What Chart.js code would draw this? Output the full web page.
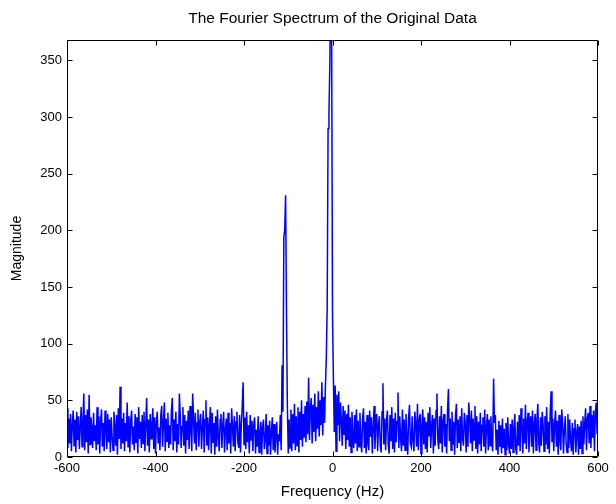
<!DOCTYPE html>
<html>
<head>
<meta charset="utf-8">
<script src="https://cdn.jsdelivr.net/npm/chart.js@4.4.1/dist/chart.umd.min.js"></script>
<style>
  html, body { margin: 0; padding: 0; background: #fff; }
  #wrap { width: 616px; height: 504px; }
</style>
</head>
<body>
<div id="wrap"><canvas id="spectrum" width="616" height="504"></canvas></div>
<script>
// FFT bins: 2 Hz apart, -600 .. 600 Hz
const binStart = -600;
const binStep = 2;

// |X(f)| per bin, 30 bins (60 Hz) per row
const magnitude = [
  43, 8, 34, 12, 38, 5, 29, 41, 10, 33, 4, 40, 15, 36, 7, 27, 44, 9, 31, 56, 6, 37, 13, 42, 3, 55, 11, 35, 26, 8,
  39, 14, 28, 6, 44, 11, 36, 3, 32, 42, 9, 30, 5, 41, 24, 7, 38, 13, 33, 4, 35, 18, 6, 40, 27, 10, 37, 2, 43, 16,
  62, 7, 34, 12, 39, 5, 30, 14, 48, 9, 36, 4, 32, 41, 11, 27, 6, 38, 13, 35, 3, 44, 16, 31, 8, 37, 12, 40, 5, 29,
  52, 10, 33, 4, 38, 16, 29, 43, 7, 35, 3, 31, 40, 12, 26, 6, 37, 45, 9, 30, 48, 5, 34, 14, 39, 8, 28, 11, 41, 52,
  6, 33, 14, 40, 4, 29, 11, 56, 36, 8, 27, 44, 10, 37, 3, 32, 15, 41, 7, 45, 24, 5, 56, 34, 12, 39, 6, 30, 42, 9,
  31, 38, 7, 26, 41, 4, 33, 50, 10, 35, 6, 29, 44, 3, 39, 13, 30, 2, 36, 9, 42, 17, 5, 33, 38, 8, 28, 40, 4, 24,
  34, 6, 39, 12, 30, 3, 43, 27, 9, 36, 5, 31, 40, 14, 8, 37, 4, 29, 45, 66, 11, 35, 7, 40, 13, 28, 3, 37, 15, 32,
  5, 29, 35, 3, 24, 9, 36, 4, 21, 31, 2, 27, 33, 7, 15, 38, 3, 28, 10, 32, 2, 23, 35, 6, 29, 4, 19, 31, 2, 20,
  14, 37, 6, 81, 40, 194, 200, 231, 128, 45, 3, 33, 8, 42, 5, 38, 12, 47, 6, 36, 10, 44, 4, 40, 15, 50, 9, 38, 17, 45,
  13, 49, 20, 70, 15, 43, 52, 12, 46, 22, 56, 14, 44, 25, 58, 18, 50, 28, 66, 19, 53, 30, 62, 88, 132, 290, 303, 347, 420, 380,
  127, 70, 22, 63, 5, 55, 28, 58, 14, 48, 33, 10, 45, 20, 41, 7, 38, 15, 46, 9, 35, 4, 40, 18, 8, 37, 12, 42, 5, 32,
  9, 39, 14, 4, 34, 43, 8, 31, 3, 37, 12, 6, 41, 18, 35, 3, 27, 45, 7, 33, 38, 5, 29, 36, 10, 4, 40, 65, 11, 34,
  6, 32, 41, 11, 3, 37, 14, 44, 7, 34, 4, 39, 13, 31, 57, 8, 36, 16, 5, 42, 10, 33, 6, 38, 17, 2, 35, 46, 12, 9,
  36, 14, 5, 40, 30, 9, 47, 6, 33, 38, 3, 28, 42, 11, 35, 7, 31, 4, 39, 18, 44, 8, 27, 37, 3, 34, 10, 41, 56, 15,
  7, 36, 12, 45, 4, 32, 38, 9, 29, 3, 42, 60, 14, 34, 6, 40, 11, 31, 2, 37, 47, 8, 33, 13, 36, 5, 43, 16, 10, 39,
  30, 4, 37, 9, 48, 33, 12, 41, 5, 34, 15, 45, 7, 36, 3, 31, 11, 39, 5, 28, 35, 9, 42, 3, 27, 38, 6, 33, 10, 36,
  14, 5, 69, 30, 37, 6, 24, 2, 32, 9, 28, 3, 34, 8, 25, 2, 30, 6, 35, 11, 3, 29, 7, 33, 4, 26, 38, 8, 2, 31,
  10, 37, 5, 43, 28, 3, 34, 12, 46, 7, 31, 39, 4, 27, 36, 9, 41, 3, 30, 38, 6, 33, 47, 13, 4, 35, 10, 40, 28, 5,
  36, 11, 44, 7, 31, 3, 39, 58, 13, 34, 5, 29, 41, 9, 32, 2, 37, 14, 6, 42, 30, 3, 24, 36, 12, 4, 38, 8, 33, 15,
  5, 30, 2, 25, 33, 4, 22, 29, 2, 27, 7, 32, 3, 36, 11, 30, 43, 6, 34, 39, 12, 45, 8, 37, 17, 41, 5, 39, 48, 20,
  40
];

const xTicks = [-600, -400, -200, 0, 200, 400, 600];
const yTicks = [0, 50, 100, 150, 200, 250, 300, 350];

const points = magnitude.map((m, i) => ({ x: binStart + i * binStep, y: m }));

const FONT = "'Liberation Sans', Arial, sans-serif";

// matlab-style box with ticks pointing inward on all four sides
const boxTicks = {
  id: 'boxTicks',
  afterDraw(chart) {
    const { ctx, chartArea: a, scales } = chart;
    const L = Math.round(a.left) + 0.5, R = Math.round(a.right) - 0.5;
    const T = Math.round(a.top) + 0.5, B = Math.round(a.bottom) - 0.5;
    const len = 5;
    ctx.save();
    ctx.strokeStyle = '#000';
    ctx.lineWidth = 1;
    ctx.beginPath();
    ctx.rect(L, T, R - L, B - T);
    xTicks.forEach(v => {
      const px = Math.round(scales.x.getPixelForValue(v)) + 0.5;
      ctx.moveTo(px, B); ctx.lineTo(px, B - len);
      ctx.moveTo(px, T); ctx.lineTo(px, T + len);
    });
    yTicks.forEach(v => {
      const py = Math.round(scales.y.getPixelForValue(v)) + 0.5;
      ctx.moveTo(L, py); ctx.lineTo(L + len, py);
      ctx.moveTo(R, py); ctx.lineTo(R - len, py);
    });
    ctx.stroke();
    ctx.restore();
  }
};

new Chart(document.getElementById('spectrum'), {
  type: 'line',
  data: {
    datasets: [{
      data: points,
      borderColor: '#0000ff',
      borderWidth: 1.5,
      pointRadius: 0,
      tension: 0
    }]
  },
  options: {
    responsive: false,
    animation: false,
    parsing: false,
    layout: { padding: { left: 0, right: 18, top: 0, bottom: 0 } },
    plugins: {
      legend: { display: false },
      tooltip: { enabled: false },
      title: {
        display: true,
        fullSize: false,
        text: 'The Fourier Spectrum of the Original Data',
        color: '#000',
        font: { family: FONT, size: 15.5, weight: 'normal' },
        padding: { top: 9, bottom: 12.4 }
      }
    },
    scales: {
      x: {
        type: 'linear',
        min: -600,
        max: 600,
        grid: { display: false, drawTicks: false },
        border: { display: false },
        afterBuildTicks: s => { s.ticks = xTicks.map(v => ({ value: v })); },
        afterFit: s => { s.height = 47; },
        ticks: { color: '#000', font: { family: FONT, size: 13 }, padding: 4, maxRotation: 0 },
        title: {
          display: true,
          text: 'Frequency (Hz)',
          color: '#000',
          font: { family: FONT, size: 15 },
          padding: { top: 0, bottom: 3 }
        }
      },
      y: {
        min: 0,
        max: 368,
        grid: { display: false, drawTicks: false },
        border: { display: false },
        afterBuildTicks: s => { s.ticks = yTicks.map(v => ({ value: v })); },
        afterFit: s => { s.width = 67; },
        ticks: { color: '#000', font: { family: FONT, size: 13 }, padding: 5 },
        title: {
          display: true,
          text: 'Magnitude',
          color: '#000',
          font: { family: FONT, size: 14 },
          padding: { top: 9, bottom: 0 }
        }
      }
    }
  },
  plugins: [boxTicks]
});
</script>
</body>
</html>
